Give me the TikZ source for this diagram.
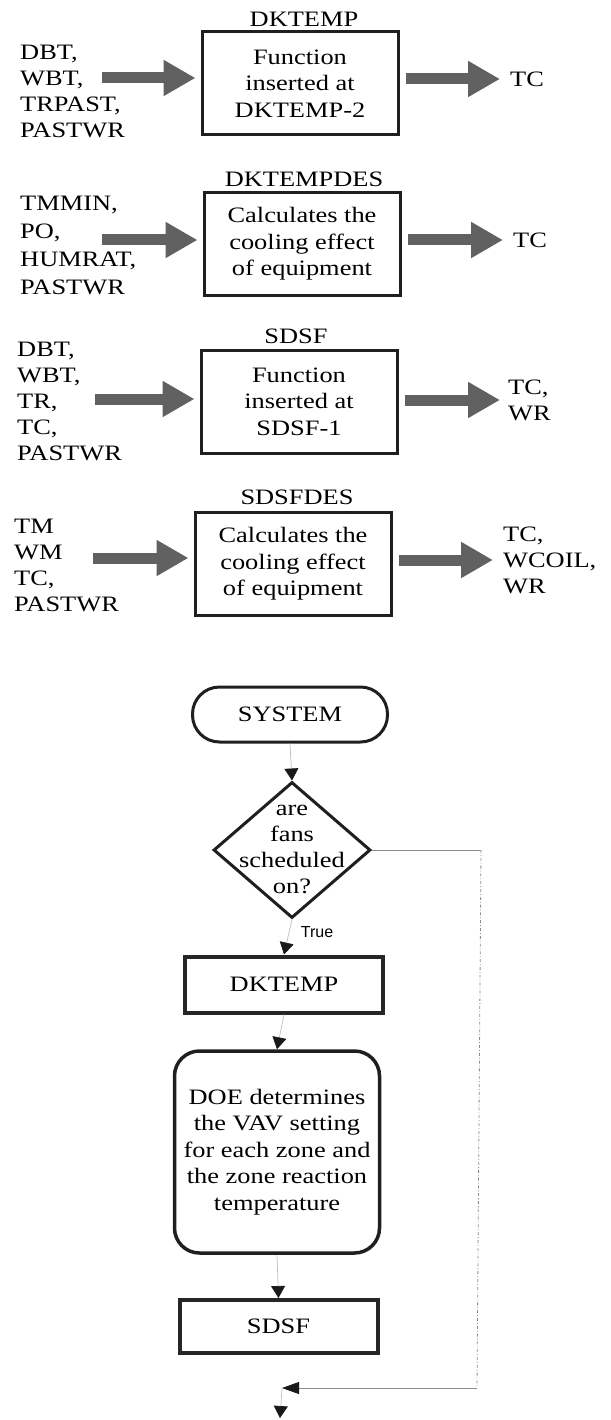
\documentclass[tikz,border=0pt]{standalone}
\usepackage{fontspec}
\setmainfont{Liberation Serif}[FakeStretch=1.2]
\newfontfamily\labelfont{Liberation Sans}
\usetikzlibrary{arrows.meta,shapes.geometric}
\begin{document}
\begin{tikzpicture}[x=1pt,y=-1pt,
  txt/.style={font=\fontsize{22}{26}\selectfont, inner sep=0pt, align=left},
  ctxt/.style={font=\fontsize{22}{26.5}\selectfont, inner sep=0pt, align=center},
  fbox/.style={ctxt, draw=black!88, line width=3pt, minimum width=196pt, minimum height=103pt},
  blockarr/.style={draw=black!62, line width=11pt, -{Triangle[length=32pt,width=34pt]}},
  stadium/.style={ctxt, draw=black!88, line width=3pt, rounded corners=27pt, minimum width=195pt, minimum height=55pt},
  pbox/.style={ctxt, draw=black!85, line width=4pt, minimum width=198pt, minimum height=56pt},
  flow/.style={draw=black!25, line width=0.7pt, -{Triangle[length=12pt,width=14pt,color=black!90]}},
  loopline/.style={draw=black!45, line width=0.8pt}
]
\path[use as bounding box] (0,0) rectangle (610,1420);

% ---------- Block 1: DKTEMP ----------
\node[ctxt] (t1) at (304,19) {DKTEMP};
\node[fbox] (box1) at (300,83.5) {Function\\inserted at\\DKTEMP-2};
\node[txt, anchor=west] (in1) at (20,91) {DBT,\\WBT,\\TRPAST,\\PASTWR};
\coordinate (a1) at (102,78);
\draw[blockarr, shorten >=5pt] (a1) -- (a1 -| box1.west);
\node[txt, anchor=west] (o1) at (510,79) {TC};
\draw[blockarr, shorten <=6pt, shorten >=10pt] (box1.east |- o1.west) -- (o1.west);

% ---------- Block 2: DKTEMPDES ----------
\node[ctxt] (t2) at (304,179) {DKTEMPDES};
\node[fbox] (box2) at (302,244) {Calculates the\\cooling effect\\of equipment};
\node[txt, font=\fontsize{22}{28}\selectfont, anchor=west] (in2) at (20,245) {TMMIN,\\PO,\\HUMRAT,\\PASTWR};
\coordinate (a2) at (102,240);
\draw[blockarr, shorten >=5pt] (a2) -- (a2 -| box2.west);
\node[txt, anchor=west] (o2) at (513,240) {TC};
\draw[blockarr, shorten <=6pt, shorten >=10pt] (box2.east |- o2.west) -- (o2.west);

% ---------- Block 3: SDSF ----------
\node[ctxt] (t3) at (296,336) {SDSF};
\node[fbox] (box3) at (299,401.5) {Function\\inserted at\\SDSF-1};
\node[txt, anchor=west] (in3) at (17,401) {DBT,\\WBT,\\TR,\\TC,\\PASTWR};
\coordinate (a3) at (95,399);
\draw[blockarr, shorten >=5pt] (a3) -- (a3 -| box3.west);
\node[txt, anchor=west] (o3) at (508,400) {TC,\\WR};
\draw[blockarr, shorten <=6pt, shorten >=8pt] (box3.east |- o3.west) -- (o3.west);

% ---------- Block 4: SDSFDES ----------
\node[ctxt] (t4) at (297,497) {SDSFDES};
\node[fbox] (box4) at (293,564) {Calculates the\\cooling effect\\of equipment};
\node[txt, anchor=west] (in4) at (14,565) {TM\\WM\\TC,\\PASTWR};
\coordinate (a4) at (93,558);
\draw[blockarr, shorten >=5pt] (a4) -- (a4 -| box4.west);
\node[txt, anchor=west] (o4) at (503,560) {TC,\\WCOIL,\\WR};
\draw[blockarr, shorten <=6pt, shorten >=10pt] (box4.east |- o4.west) -- (o4.west);

% ---------- Flowchart ----------
\node[stadium] (sys) at (290,714.5) {SYSTEM};
\node[diamond, draw=black!88, line width=3pt, minimum width=157pt, minimum height=136pt, inner sep=0pt] (dec) at (292,850) {};
\node[ctxt, font=\fontsize{22}{26}\selectfont] (dect) at (292,849) {are\\fans\\scheduled\\on?};
\draw[flow] (sys.south) -- (dec.north);

\node[font=\labelfont\fontsize{16}{18}\selectfont, inner sep=0pt] (true) at (317,932) {True};
\node[pbox] (dk) at (284,984.5) {DKTEMP};
\draw[flow] (dec.south) -- (dk.north);

\node[ctxt, draw=black!88, line width=3.5pt, rounded corners=25pt, minimum width=205pt, minimum height=202pt] (doe) at (277,1152)
  {DOE determines\\the VAV setting\\for each zone and\\the zone reaction\\temperature};
\draw[flow] (dk.south) -- (doe.north);

\node[pbox, minimum height=53pt] (sdsf) at (278.5,1326.5) {SDSF};
\draw[flow] (doe.south) -- (sdsf.north);

\coordinate (rt) at (481,850);
\coordinate (rb) at (477,1388);
\coordinate (merge) at (282,1388);
\coordinate (endpt) at (280,1418);
\draw[loopline] (dec.east) -- (rt);
\draw[loopline, dash dot] (rt) -- (rb);
\draw[loopline, -{Triangle[length=17pt,width=12pt,color=black!90]}] (rb) -- (merge);
\draw[flow] (merge) -- (endpt);
\end{tikzpicture}
\end{document}
